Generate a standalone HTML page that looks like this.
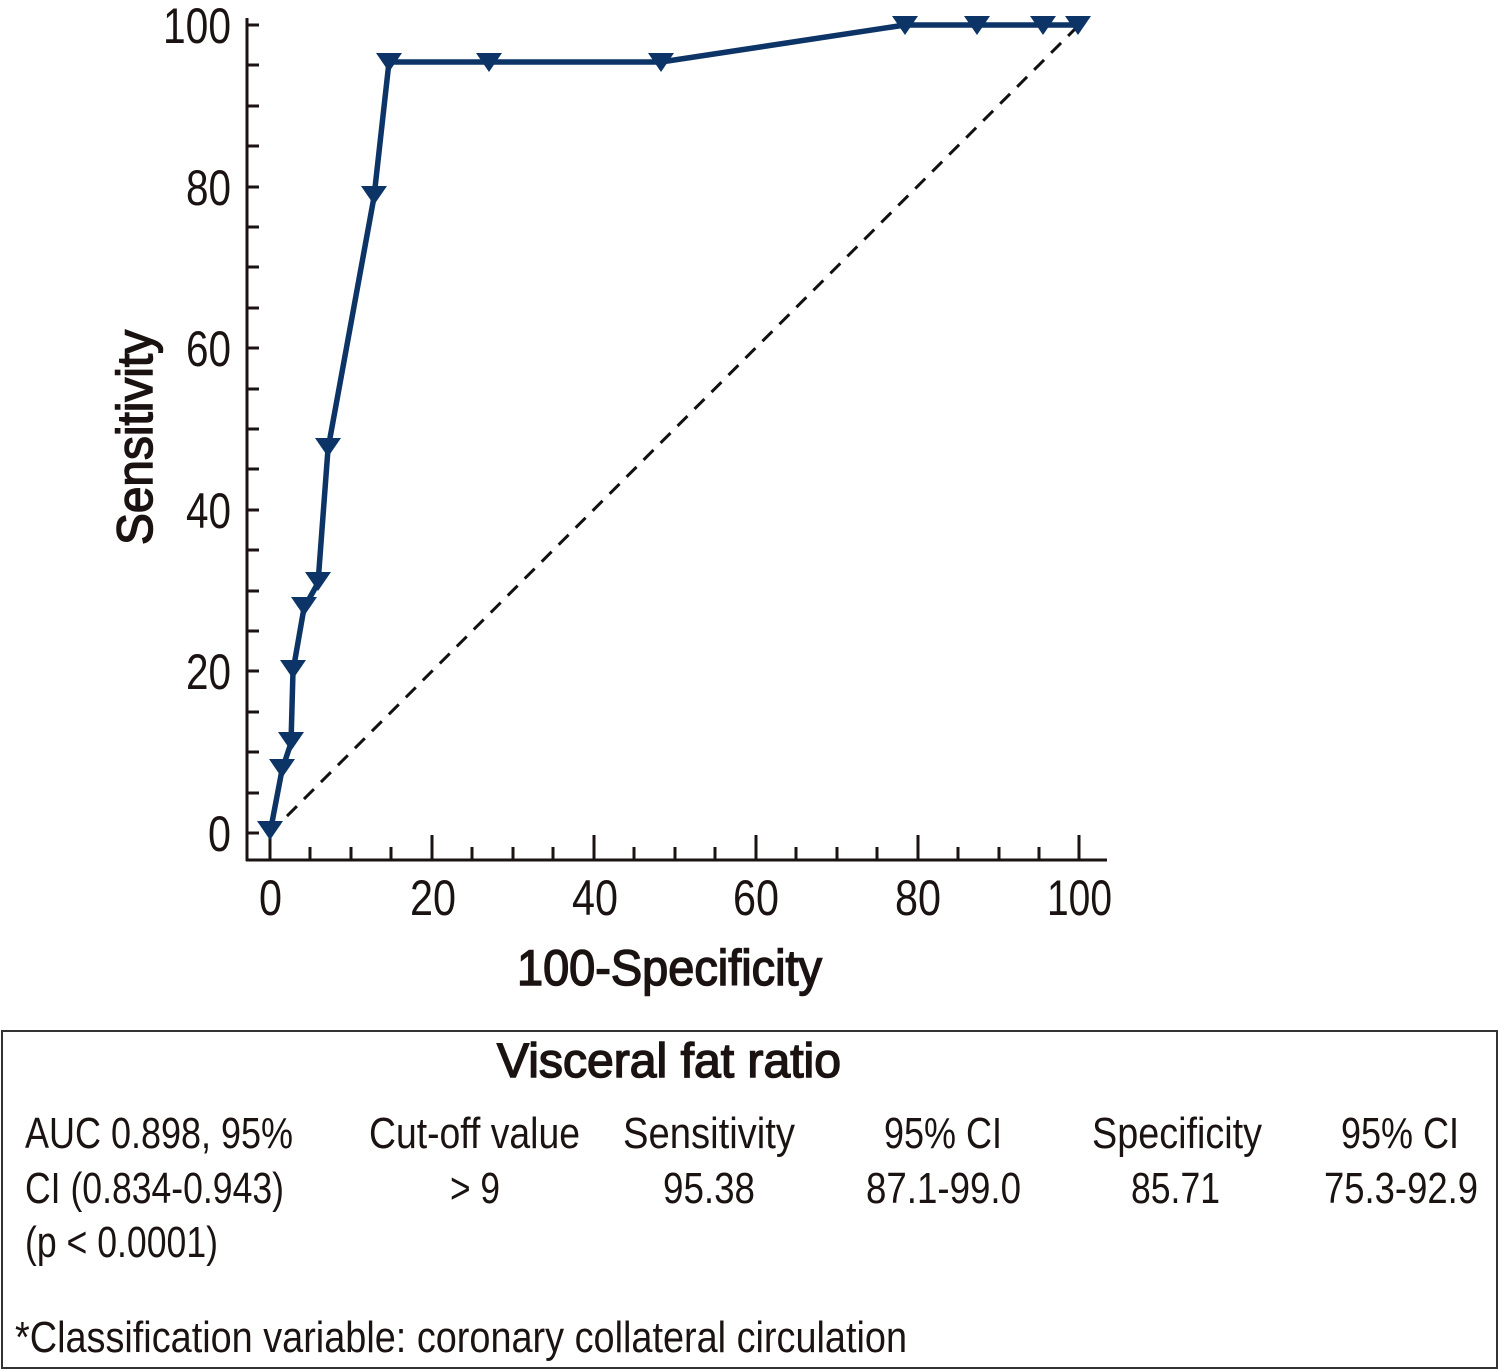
<!DOCTYPE html>
<html><head><meta charset="utf-8"><style>
html,body{margin:0;padding:0;background:#fff;}
svg{display:block;}
text{font-family:"Liberation Sans",sans-serif;fill:#1a1311;}
</style></head><body>
<svg width="1500" height="1370" viewBox="0 0 1500 1370" xmlns="http://www.w3.org/2000/svg">
<rect width="1500" height="1370" fill="#fff"/>
<g stroke="#1a1311" stroke-width="3" fill="none">
<line x1="247" y1="18" x2="247" y2="861"/>
<line x1="246" y1="860" x2="1107" y2="860"/>
<path d="M247 25h12M247 65h12M247 106h12M247 146h12M247 187h12M247 227h12M247 267h12M247 308h12M247 348h12M247 389h12M247 429h12M247 469h12M247 510h12M247 550h12M247 591h12M247 631h12M247 671h12M247 712h12M247 752h12M247 793h12M247 833h12"/>
<path d="M270 860v-25M432 860v-25M594 860v-25M756 860v-25M918 860v-25M1079 860v-25"/>
<path d="M310 860v-13M351 860v-13M391 860v-13M472 860v-13M513 860v-13M553 860v-13M634 860v-13M675 860v-13M715 860v-13M796 860v-13M837 860v-13M877 860v-13M958 860v-13M999 860v-13M1039 860v-13"/>
</g>
<line x1="270" y1="833" x2="1079" y2="25" stroke="#111" stroke-width="3" stroke-dasharray="14,10"/>
<polyline fill="none" stroke="#0d3466" stroke-width="5.5" stroke-linejoin="round"
points="270,833 282,770 291,743 293,671 304,608 318,583 328,449 374,197 389,62 489,62 661,62 905,25 977,25 1043,25 1078,25"/>
<g fill="#0d3466">
<path d="M257 821h26l-13 19z"/>
<path d="M269 759h26l-13 19z"/>
<path d="M278 732h26l-13 19z"/>
<path d="M280 660h26l-13 19z"/>
<path d="M291 597h26l-13 19z"/>
<path d="M305 572h26l-13 19z"/>
<path d="M315 438h26l-13 19z"/>
<path d="M361 186h26l-13 19z"/>
<path d="M376 53h26l-13 19z"/>
<path d="M476 53h26l-13 19z"/>
<path d="M648 53h26l-13 19z"/>
<path d="M892 16h26l-13 19z"/>
<path d="M964 16h26l-13 19z"/>
<path d="M1030 16h26l-13 19z"/>
<path d="M1065 16h26l-13 19z"/>
</g>
<g font-size="50">
<text x="163" y="43" textLength="68" lengthAdjust="spacingAndGlyphs">100</text>
<text x="186" y="205" textLength="45" lengthAdjust="spacingAndGlyphs">80</text>
<text x="186" y="366" textLength="45" lengthAdjust="spacingAndGlyphs">60</text>
<text x="186" y="528" textLength="45" lengthAdjust="spacingAndGlyphs">40</text>
<text x="186" y="689" textLength="45" lengthAdjust="spacingAndGlyphs">20</text>
<text x="208" y="851" textLength="23" lengthAdjust="spacingAndGlyphs">0</text>
<text x="259" y="915" textLength="23" lengthAdjust="spacingAndGlyphs">0</text>
<text x="410" y="915" textLength="46" lengthAdjust="spacingAndGlyphs">20</text>
<text x="572" y="915" textLength="46" lengthAdjust="spacingAndGlyphs">40</text>
<text x="733" y="915" textLength="46" lengthAdjust="spacingAndGlyphs">60</text>
<text x="895" y="915" textLength="46" lengthAdjust="spacingAndGlyphs">80</text>
<text x="1047" y="915" textLength="65" lengthAdjust="spacingAndGlyphs">100</text>
</g>
<text x="517" y="985" font-size="50" stroke="#1a1311" stroke-width="1.5" textLength="305" lengthAdjust="spacingAndGlyphs">100-Specificity</text>
<text transform="translate(152,545) rotate(-90)" font-size="50" stroke="#1a1311" stroke-width="1.5" textLength="215" lengthAdjust="spacingAndGlyphs">Sensitivity</text>
<rect x="2" y="1031" width="1495" height="337" fill="none" stroke="#333" stroke-width="2"/>
<text x="497" y="1077" font-size="48" stroke="#1a1311" stroke-width="1.5" textLength="344" lengthAdjust="spacingAndGlyphs">Visceral fat ratio</text>
<g font-size="44">
<text x="25" y="1148" textLength="268" lengthAdjust="spacingAndGlyphs">AUC 0.898, 95%</text>
<text x="25" y="1203" textLength="259" lengthAdjust="spacingAndGlyphs">CI (0.834-0.943)</text>
<text x="25" y="1257" textLength="193" lengthAdjust="spacingAndGlyphs">(p &lt; 0.0001)</text>
<text x="369" y="1148" textLength="211" lengthAdjust="spacingAndGlyphs">Cut-off value</text>
<text x="450" y="1203" textLength="50" lengthAdjust="spacingAndGlyphs">&gt; 9</text>
<text x="623" y="1148" textLength="172" lengthAdjust="spacingAndGlyphs">Sensitivity</text>
<text x="663" y="1203" textLength="92" lengthAdjust="spacingAndGlyphs">95.38</text>
<text x="884" y="1148" textLength="118" lengthAdjust="spacingAndGlyphs">95% CI</text>
<text x="866" y="1203" textLength="155" lengthAdjust="spacingAndGlyphs">87.1-99.0</text>
<text x="1092" y="1148" textLength="170" lengthAdjust="spacingAndGlyphs">Specificity</text>
<text x="1131" y="1203" textLength="89" lengthAdjust="spacingAndGlyphs">85.71</text>
<text x="1341" y="1148" textLength="118" lengthAdjust="spacingAndGlyphs">95% CI</text>
<text x="1324" y="1203" textLength="154" lengthAdjust="spacingAndGlyphs">75.3-92.9</text>
<text x="15" y="1352" textLength="892" lengthAdjust="spacingAndGlyphs">*Classification variable: coronary collateral circulation</text>
</g>
</svg>
</body></html>
